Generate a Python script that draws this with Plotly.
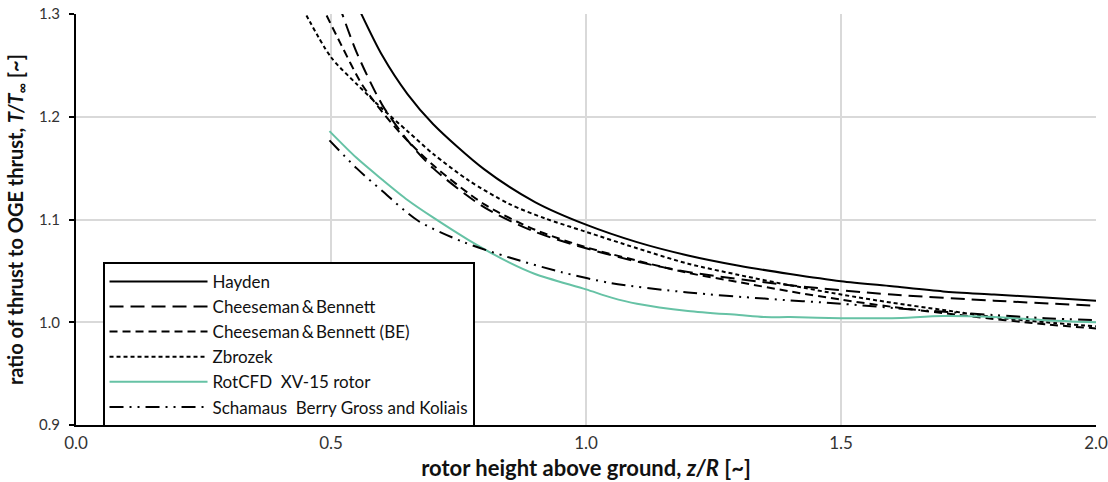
import plotly.graph_objects as go

# ---- data ----
hayden_x = [0.55, 0.6, 0.65, 0.7, 0.8, 0.9, 1.0, 1.1, 1.2, 1.3, 1.4, 1.5, 1.6, 1.7, 1.8, 1.9, 2.0]
hayden_y = [1.31, 1.260, 1.222, 1.193, 1.149, 1.117, 1.095, 1.078, 1.065, 1.055, 1.047, 1.040, 1.035, 1.030, 1.027, 1.024, 1.021]

cb_x = [0.515, 0.55, 0.6, 0.65, 0.7, 0.8, 0.9, 1.0, 1.1, 1.2, 1.4, 1.6, 1.8, 2.0]
cb_y = [1.31, 1.263, 1.212, 1.177, 1.150, 1.112, 1.088, 1.072, 1.059, 1.049, 1.036, 1.027, 1.021, 1.016]

be_x = [0.48, 0.52, 0.56, 0.6, 0.64, 0.7, 0.8, 0.9, 1.0, 1.1, 1.2, 1.3, 1.4, 1.5, 1.6, 1.75, 1.9, 2.0]
be_y = [1.31, 1.27, 1.232, 1.205, 1.182, 1.153, 1.115, 1.090, 1.073, 1.060, 1.048, 1.039, 1.030, 1.022, 1.015, 1.006, 0.998, 0.994]

zb_x = [0.445, 0.5, 0.55, 0.6, 0.65, 0.7, 0.77, 0.85, 0.92, 1.0, 1.1, 1.2, 1.3, 1.4, 1.5, 1.6, 1.7, 1.8, 1.9, 2.0]
zb_y = [1.305, 1.258, 1.232, 1.208, 1.186, 1.164, 1.138, 1.115, 1.101, 1.088, 1.072, 1.057, 1.046, 1.036, 1.027, 1.019, 1.012, 1.005, 1.000, 0.996]

cfd_x = [0.497, 0.55, 0.6, 0.65, 0.7, 0.77, 0.85, 0.9, 1.0, 1.05, 1.1, 1.2, 1.3, 1.35, 1.4, 1.5, 1.6, 1.7, 1.8, 1.9, 2.0]
cfd_y = [1.186, 1.160, 1.139, 1.119, 1.102, 1.080, 1.058, 1.047, 1.032, 1.024, 1.018, 1.011, 1.007, 1.005, 1.005, 1.004, 1.004, 1.006, 1.005, 1.002, 1.000]

sch_x = [0.497, 0.55, 0.6, 0.67, 0.76, 0.85, 0.95, 1.05, 1.2, 1.35, 1.5, 1.65, 1.8, 1.9, 2.0]
sch_y = [1.177, 1.150, 1.128, 1.099, 1.078, 1.063, 1.049, 1.038, 1.029, 1.023, 1.018, 1.012, 1.007, 1.004, 1.002]

names = ["Hayden", "Cheeseman\u2009&\u2009Bennett", "Cheeseman\u2009&\u2009Bennett (BE)", "Zbrozek",
         "RotCFD  XV-15 rotor", "Schamaus  Berry Gross and Koliais"]

x_ticks = [0.0, 0.5, 1.0, 1.5, 2.0]
y_ticks = [0.9, 1.0, 1.1, 1.2, 1.3]

series = [
    (hayden_x, hayden_y, "black", "solid"),
    (cb_x, cb_y, "black", "14px,7px"),
    (be_x, be_y, "black", "8px,5px"),
    (zb_x, zb_y, "black", "4px,3px"),
    (cfd_x, cfd_y, "#66C2A5", "solid"),
    (sch_x, sch_y, "black", "14px,6px,2px,6px,2px,6px"),
]

fig = go.Figure()
for (xs, ys, col, dash), nm in zip(series, names):
    fig.add_trace(go.Scatter(
        x=xs, y=ys, mode="lines", name=nm,
        line=dict(color=col, width=2, dash=dash, shape="spline", smoothing=0.8),
    ))

font_fam = "Lato, 'Open Sans', sans-serif"

fig.update_layout(
    width=1108, height=482,
    margin=dict(l=76, r=12, t=14, b=57, autoexpand=False),
    paper_bgcolor="white", plot_bgcolor="white",
    font=dict(family=font_fam, color="#222", size=14),
    legend=dict(
        x=0.026, y=0.397, xanchor="left", yanchor="top",
        bgcolor="white", bordercolor="black", borderwidth=2,
        font=dict(family=font_fam, size=17, color="#111"),
        itemwidth=98, tracegroupgap=0,
    ),
    showlegend=True,
)

fig.update_xaxes(
    range=[0, 2.0], tickvals=x_ticks, ticktext=[f"{v:.1f}" for v in x_ticks],
    showgrid=True, gridcolor="#d9d9d9", gridwidth=2,
    showline=True, linecolor="black", linewidth=2,
    ticks="", zeroline=False, automargin=False,
    ticklabeloverflow="allow",
    tickfont=dict(size=17, family=font_fam, color="#333"),
    ticklabelstandoff=2,
    title=dict(text="<b>rotor height above ground, <i>z/R</i> [~]</b>",
               font=dict(size=22, family=font_fam, color="#111"), standoff=8),
)
fig.update_yaxes(
    range=[0.9, 1.3], tickvals=y_ticks, ticktext=[f"{v:.1f}" for v in y_ticks],
    showgrid=True, gridcolor="#d9d9d9", gridwidth=2,
    showline=True, linecolor="black", linewidth=2,
    ticks="outside", ticklen=5, tickwidth=2, tickcolor="black",
    zeroline=False, automargin=False,
    ticklabeloverflow="allow",
    tickfont=dict(size=15, family=font_fam, color="#333"),
    ticklabelstandoff=6,
    title=dict(text="<b>ratio of thrust to OGE thrust, <i>T/T</i><sub>\u221e</sub> [~]</b>",
               font=dict(size=20, family=font_fam, color="#111"), standoff=10),
)

# remove the browser's default 8px page margin so the figure fills the window
fig.write_html("out.html", config={"displayModeBar": False},
               post_script="document.body.style.margin='0px';")
